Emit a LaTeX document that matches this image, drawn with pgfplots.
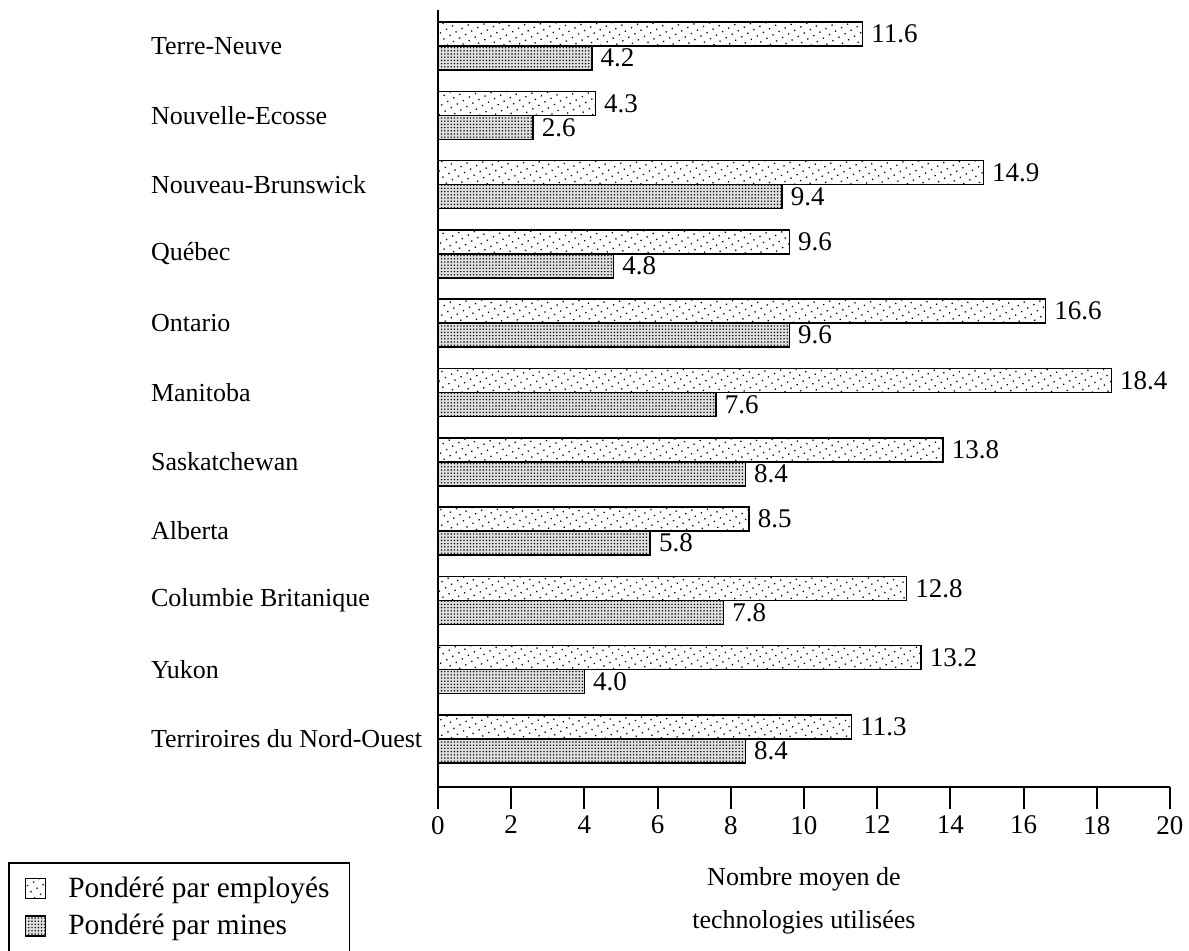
\documentclass[border=0pt]{standalone}
\usepackage{fontspec}
\setmainfont{Liberation Serif}
\usepackage{pgfplots}
\pgfplotsset{compat=1.18}
\usetikzlibrary{patterns.meta}

\begin{document}
\begin{tikzpicture}
\path[use as bounding box] (-219pt,-81.5pt) rectangle (375.5pt,393.5pt);
\begin{axis}[
  at={(0pt,0pt)}, anchor=south west,
  scale only axis, width=366pt, height=388.5pt,
  xbar, bar width=12pt, clip=false,
  xmin=0, xmax=20, ymin=-0.693, ymax=10.52,
  axis x line*=bottom, axis y line*=left,
  axis line style={-, line width=1pt},
  xtick={0,2,...,20}, tick align=outside, major tick length=11pt,
  x tick style={line width=1pt, black},
  xticklabel style={font=\fontsize{13.5}{16}\selectfont, /pgf/number format/assume math mode=true},
  ytick={0,...,10},
  yticklabels={Terriroires du Nord-Ouest, Yukon, Columbie Britanique, Alberta, Saskatchewan, Manitoba, Ontario, Québec, Nouveau-Brunswick, Nouvelle-Ecosse, Terre-Neuve},
  y tick style={draw=none},
  yticklabel style={anchor=west, xshift=-136pt, font=\fontsize{13}{15}\selectfont},
  xlabel={Nombre moyen de\\technologies utilisées},
  xlabel style={align=center, font=\fontsize{13}{21.5}\selectfont, at={(axis description cs:0.5,-0.094)}, anchor=north},
  point meta=x,
  nodes near coords={\pgfmathprintnumber[fixed,fixed zerofill,precision=1,assume math mode=true]{\pgfplotspointmeta}},
  nodes near coords style={font=\fontsize{13.5}{15}\selectfont, anchor=west, inner xsep=4pt},
  legend cell align=left,
  legend style={at={(-0.587,-0.0965)}, anchor=north west, draw=black, line width=0.8pt,
    font=\fontsize{14.7}{16}\selectfont, row sep=3pt, inner xsep=8pt, inner ysep=5pt,
    /tikz/every odd column/.append style={column sep=9pt}},
  legend image code/.code={\draw[#1, line width=0.6pt] (0pt,-5pt) rectangle (10pt,5pt);},
]
\addplot[draw=black, line width=0.8pt, fill=white, postaction={pattern={Dots[distance=3.5pt, radius=0.45pt, angle=30]}}, bar shift=6pt]
  coordinates {(11.3,0) (13.2,1) (12.8,2) (8.5,3) (13.8,4) (18.4,5) (16.6,6) (9.6,7) (14.9,8) (4.3,9) (11.6,10)};
\addlegendentry{Pondéré par employés}
\addplot[draw=black, line width=0.8pt, fill=gray!25, postaction={pattern={Dots[distance=1.6pt, radius=0.4pt]}}, bar shift=-6pt]
  coordinates {(8.4,0) (4.0,1) (7.8,2) (5.8,3) (8.4,4) (7.6,5) (9.6,6) (4.8,7) (9.4,8) (2.6,9) (4.2,10)};
\addlegendentry{Pondéré par mines}
\end{axis}
\end{tikzpicture}
\end{document}
